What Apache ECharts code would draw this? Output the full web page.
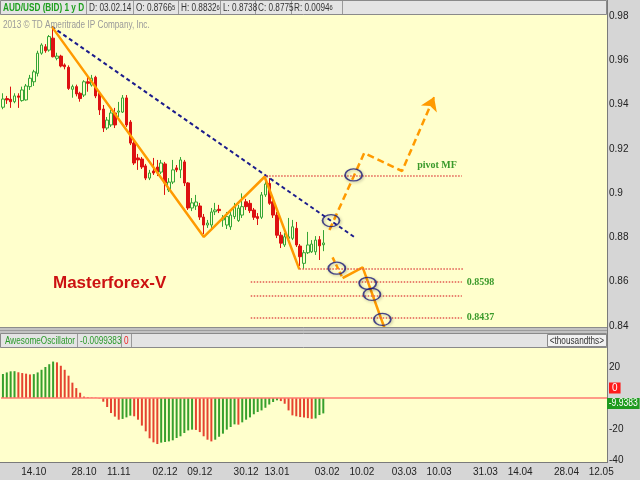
<!DOCTYPE html>
<html><head><meta charset="utf-8">
<script src="https://cdn.jsdelivr.net/npm/echarts@6/dist/echarts.min.js"></script>
<style>html,body{margin:0;padding:0;background:#d6d6d6}#c{width:640px;height:480px}</style>
</head><body><div id="c"></div><script>
// ---- data (daily AUD/USD candles: [open, close, low, high]) ----
const candles = [
[0.9388,0.9425,0.9379,0.9451],[0.9427,0.9421,0.9403,0.9439],[0.9424,0.9413,0.9385,0.9481],[0.9413,0.9439,0.9406,0.9451],
[0.9439,0.9433,0.9385,0.9451],[0.9418,0.9466,0.9413,0.9481],[0.9421,0.9484,0.9418,0.9493],[0.9481,0.9519,0.9466,0.9534],
[0.9503,0.9548,0.9484,0.9557],[0.9541,0.9632,0.9527,0.9643],[0.9632,0.9669,0.9625,0.9677],[0.9661,0.9643,0.9634,0.9673],
[0.9646,0.9707,0.9639,0.9714],[0.9700,0.9616,0.9613,0.9752],[0.9609,0.9619,0.9600,0.9634],[0.9619,0.9574,0.9568,0.9625],
[0.9579,0.9571,0.9559,0.9586],[0.9568,0.9473,0.9466,0.9577],[0.9469,0.9481,0.9431,0.9490],[0.9481,0.9448,0.9437,0.9490],
[0.9451,0.9427,0.9413,0.9458],[0.9443,0.9503,0.9434,0.9510],[0.9503,0.9496,0.9458,0.9526],[0.9488,0.9519,0.9481,0.9534],
[0.9523,0.9439,0.9429,0.9530],[0.9451,0.9376,0.9353,0.9458],[0.9380,0.9294,0.9276,0.9398],[0.9294,0.9330,0.9285,0.9344],
[0.9308,0.9362,0.9299,0.9376],[0.9362,0.9308,0.9294,0.9385],[0.9366,0.9371,0.9344,0.9412],[0.9366,0.9430,0.9362,0.9443],
[0.9430,0.9308,0.9299,0.9443],[0.9321,0.9226,0.9217,0.9330],[0.9226,0.9136,0.9127,0.9235],[0.9159,0.9150,0.9105,0.9177],
[0.9154,0.9118,0.9109,0.9163],[0.9123,0.9068,0.9059,0.9132],[0.9068,0.9091,0.9059,0.9105],[0.9100,0.9091,0.9082,0.9159],
[0.9118,0.9095,0.9077,0.9150],[0.9095,0.9136,0.9086,0.9150],[0.9132,0.9046,0.8992,0.9141],[0.9014,0.9050,0.9005,0.9068],
[0.9050,0.9105,0.9041,0.9150],[0.9114,0.9105,0.9095,0.9127],[0.9105,0.9150,0.9068,0.9163],[0.9141,0.9046,0.9032,0.9150],
[0.9046,0.8933,0.8924,0.9050],[0.8933,0.8956,0.8919,0.8978],[0.8942,0.8960,0.8924,0.8992],[0.8942,0.8892,0.8879,0.8956],
[0.8892,0.8856,0.8815,0.8906],[0.8856,0.8865,0.8843,0.8879],[0.8856,0.8915,0.8843,0.8933],[0.8916,0.8924,0.8901,0.8956],
[0.8927,0.8921,0.8910,0.8947],[0.8879,0.8888,0.8848,0.8901],[0.8856,0.8894,0.8838,0.8915],[0.8848,0.8901,0.8834,0.8924],
[0.8894,0.8939,0.8883,0.8956],[0.8876,0.8932,0.8870,0.8947],[0.8901,0.8939,0.8888,0.8999],[0.8961,0.8939,0.8924,0.8974],
[0.8954,0.8921,0.8910,0.8969],[0.8924,0.8891,0.8879,0.8933],[0.8894,0.8886,0.8856,0.8910],[0.8891,0.8992,0.8883,0.9005],
[0.8992,0.9041,0.8983,0.9073],[0.9044,0.8954,0.8947,0.9068],[0.8961,0.8901,0.8888,0.8974],[0.8901,0.8810,0.8797,0.8915],
[0.8810,0.8774,0.8752,0.8825],[0.8766,0.8803,0.8757,0.8820],[0.8796,0.8803,0.8788,0.8888],[0.8796,0.8848,0.8788,0.8879],
[0.8841,0.8766,0.8757,0.8870],[0.8761,0.8713,0.8671,0.8770],[0.8683,0.8731,0.8657,0.8743],[0.8731,0.8766,0.8725,0.8825],
[0.8735,0.8770,0.8730,0.8788],[0.8735,0.8788,0.8721,0.8806],[0.8790,0.8762,0.8698,0.8806],[0.8767,0.8775,0.8738,0.8833]
];
// Awesome Oscillator, thousandths
const aoValues = [15.5,16.5,17.2,17.3,16.6,16.1,15.7,15.2,15.4,16.5,18.2,20.0,21.8,23.5,23.0,20.8,18.2,14.4,9.9,6.4,
3.4,0.9,0.5,0.3,0.2,-0.3,-2.4,-5.8,-9.7,-12.0,-14.0,-13.5,-12.5,-11.4,-11.8,-14.0,-17.8,-21.5,-26.0,-28.6,
-29.7,-28.8,-28.4,-28.0,-27.3,-25.8,-24.7,-22.6,-20.9,-20.4,-20.6,-22.0,-24.7,-26.9,-28.0,-26.9,-25.0,-23.0,-20.4,-18.7,
-17.0,-17.2,-15.7,-14.0,-12.5,-10.5,-9.0,-8.0,-6.3,-4.2,-2.6,-1.5,-2.0,-3.7,-8.0,-11.2,-11.8,-12.3,-12.6,-13.0,
-13.4,-13.2,-11.0,-9.9383];
const tickLabels = ['14.10','28.10','11.11','02.12','09.12','30.12','13.01','03.02','10.02','03.03','10.03','31.03','14.04','28.04','12.05'];
const tickIndex  = [8,21,30,42,51,63,71,84,93,104,113,125,134,146,155];
const slotCount = 157;
// drawn analysis (bar index, price)
const trendLine = [[12.66,0.9752],[91.5,0.8796]];
const zigzag = [[12.66,0.9752],[52.05,0.8802],[67.8,0.9074],[76.8,0.8656]];
const upPath = [[84.6,0.8834],[93.6,0.9181],[103.4,0.9100],[111.7,0.9434]];
const downDash = [[85.4,0.8710],[88.0,0.8616]];
const downPath = [[88.0,0.8616],[93.2,0.8665],[99.2,0.8374]];
const levelPrices = [0.9079,0.8657,0.8598,0.8537,0.8437];
const levelFrom = [68.2,76.8,64.2,64.2,64.2];
const levelTo = [118.9,119.4,118.9,118.9,118.9];
const levelLabels = ['pivot MF','','0.8598','','0.8437'];
const circles = [[90.85,0.9082],[85.0,0.8876],[86.5,0.8661],[94.5,0.8593],[95.6,0.8543],[98.3,0.8430]];

const NF = "'Liberation Sans',Arial,sans-serif";
const SX = 0.82; // narrow look of the platform font
const chart = echarts.init(document.getElementById('c'));
const cats = Array.from({length: slotCount}, (_, i) => String(i));
const labelAt = {}; tickIndex.forEach((t, k) => labelAt[t] = tickLabels[k]);
const aoData = aoValues.map((v, i) => ({value: v, itemStyle: {color: (i === 0 || v > aoValues[i-1]) ? '#36a02c' : '#e5432f'}}));
const ORANGE = '#ff9a00';
const lvlLabel = t => t ? {show: true, formatter: t, position: t === 'pivot MF' ? 'insideEndTop' : 'end', distance: 5,
  color: '#3a9a2a', fontFamily: "'Liberation Serif',serif", fontWeight: 'bold', fontSize: 10} : {show: false};
// arrow head only: a very short piece at the tip of the path
const tip = path => { const a = path[path.length-2], b = path[path.length-1];
  return [[{coord: [b[0] - (b[0]-a[0])*0.06, b[1] - (b[1]-a[1])*0.06]}, {coord: b}]]; };

chart.setOption({
  animation: false,
  backgroundColor: '#d6d6d6',
  grid: [{left: 1, right: 33, top: 16, bottom: 154}, {left: 1, right: 33, top: 351.5, bottom: 20}],
  xAxis: [
    {type: 'category', gridIndex: 0, data: cats, axisLine: {show: false}, axisTick: {show: false}, axisLabel: {show: false}, splitLine: {show: false}},
    {type: 'category', gridIndex: 1, data: cats, axisLine: {show: false}, axisTick: {show: false}, splitLine: {show: false},
      axisLabel: {interval: (i) => labelAt[i] !== undefined, formatter: (v, i) => labelAt[i] || '', color: '#222', fontSize: 10, fontFamily: NF, margin: 7, hideOverlap: false}},
    {type: 'value', gridIndex: 0, min: -0.5, max: slotCount - 0.5, show: false}
  ],
  yAxis: [
    {type: 'value', gridIndex: 0, position: 'right', min: 0.84, max: 0.98, interval: 0.02, axisLine: {show: false}, axisTick: {show: false}, splitLine: {show: false},
      axisLabel: {color: '#222', fontSize: 10, fontFamily: NF, margin: 2, formatter: v => String(+v.toFixed(2))}},
    {type: 'value', gridIndex: 1, position: 'right', min: -40, max: 30, interval: 20, axisLine: {show: false}, axisTick: {show: false}, splitLine: {show: false},
      axisLabel: {color: '#222', fontSize: 10, fontFamily: NF, margin: 2, showMaxLabel: false, formatter: v => v === 0 ? '' : String(v)}}
  ],
  series: [
    {type: 'candlestick', xAxisIndex: 0, yAxisIndex: 0, data: candles, barWidth: 3,
      itemStyle: {color: '#ffffcc', color0: '#dd1111', borderColor: '#35a535', borderColor0: '#dd1111', borderWidth: 1}},
    {type: 'bar', xAxisIndex: 1, yAxisIndex: 1, data: aoData, barWidth: 2,
      markLine: {silent: true, symbol: ['none', 'none'], label: {show: false}, animation: false,
        data: [{yAxis: 0, lineStyle: {color: '#ff7a70', width: 1.5, type: 'solid'}}]}},
    {type: 'line', xAxisIndex: 2, yAxisIndex: 0, data: trendLine, symbol: 'none', silent: true,
      lineStyle: {color: '#1c1c8c', width: 2, type: [4, 3]}},
    {type: 'line', xAxisIndex: 2, yAxisIndex: 0, data: zigzag, symbol: 'none', silent: true,
      lineStyle: {color: ORANGE, width: 2.5},
      markLine: {silent: true, symbol: ['none', 'none'], animation: false,
        data: levelPrices.map((p, k) => [
          {coord: [levelFrom[k], p], label: lvlLabel(levelLabels[k]), lineStyle: {color: '#e25a50', width: 1.5, type: 'dotted'}},
          {coord: [levelTo[k], p]}])}},
    {type: 'line', xAxisIndex: 2, yAxisIndex: 0, data: upPath, symbol: 'none', silent: true, clip: false,
      lineStyle: {color: ORANGE, width: 2.5, type: [7, 4]},
      markLine: {silent: true, symbol: ['none', 'arrow'], symbolSize: 13, label: {show: false}, animation: false,
        lineStyle: {color: ORANGE, width: 2, type: 'solid'}, data: tip(upPath)}},
    {type: 'line', xAxisIndex: 2, yAxisIndex: 0, data: downDash, symbol: 'none', silent: true, clip: false,
      lineStyle: {color: ORANGE, width: 2.5, type: [5, 3]}},
    {type: 'line', xAxisIndex: 2, yAxisIndex: 0, data: downPath, symbol: 'none', silent: true, clip: false,
      lineStyle: {color: ORANGE, width: 2.5},
      markLine: {silent: true, symbol: ['none', 'arrow'], symbolSize: 12, label: {show: false}, animation: false,
        lineStyle: {color: ORANGE, width: 2, type: 'solid'}, data: tip(downPath)}},
    {type: 'scatter', xAxisIndex: 2, yAxisIndex: 0, data: circles, symbol: 'circle', symbolSize: [17, 12], silent: true, clip: false, z: 5,
      itemStyle: {color: 'rgba(0,0,0,0)', borderColor: '#1a1a7a', borderWidth: 1.5, shadowBlur: 3, shadowColor: 'rgba(0,0,0,0.35)', shadowOffsetX: 1, shadowOffsetY: 1}}
  ]
});

// static frame + text, plus value bubbles placed through the axis scale
const zeroY = chart.convertToPixel({yAxisIndex: 1}, 0);
const lastAO = aoValues[aoValues.length - 1];
const lastY = chart.convertToPixel({yAxisIndex: 1}, lastAO);
const vline = (x, y1, y2, c) => ({type: 'line', shape: {x1: x, y1: y1, x2: x, y2: y2}, style: {stroke: c || '#9a9a9a', lineWidth: 1}, z: 50});
const txt = (x, y, t, o, sx) => ({type: 'text', x: x, y: y, z: 60, scaleX: sx === undefined ? SX : sx,
  style: Object.assign({text: t, fill: '#333', font: '10px ' + NF, verticalAlign: 'middle'}, o || {})});
const rich = {a: {fontSize: 10, fontFamily: NF, color: '#333'}, b: {fontSize: 7, fontFamily: NF, color: '#333'}};
chart.setOption({graphic: [
  {type: 'rect', shape: {x: 0, y: 15, width: 607, height: 312}, style: {fill: '#ffffcc'}, z: 1},
  {type: 'rect', shape: {x: 0, y: 348, width: 607, height: 114}, style: {fill: '#ffffcc'}, z: 1},
  {type: 'rect', shape: {x: 0.5, y: 0.5, width: 606, height: 14}, style: {fill: '#e4e4e4', stroke: '#8a8a8a', lineWidth: 1}, z: 40},
  {type: 'rect', shape: {x: 0, y: 327, width: 607, height: 6}, style: {fill: '#c2c2c2'}, z: 40},
  {type: 'line', shape: {x1: 0, y1: 327.5, x2: 607, y2: 327.5}, style: {stroke: '#8c8c8c', lineWidth: 1}, z: 41},
  {type: 'line', shape: {x1: 0, y1: 330.5, x2: 607, y2: 330.5}, style: {stroke: '#9c9c9c', lineWidth: 1}, z: 41},
  {type: 'rect', shape: {x: 0.5, y: 333.5, width: 606, height: 14}, style: {fill: '#e4e4e4', stroke: '#8a8a8a', lineWidth: 1}, z: 40},
  {type: 'line', shape: {x1: 607.5, y1: 0, x2: 607.5, y2: 463}, style: {stroke: '#7a7a7a', lineWidth: 1}, z: 41},
  {type: 'line', shape: {x1: 0, y1: 462.5, x2: 608, y2: 462.5}, style: {stroke: '#7a7a7a', lineWidth: 1}, z: 41},
  vline(86.5, 1, 14), vline(133.5, 1, 14), vline(178.5, 1, 14), vline(220.5, 1, 14), vline(255.5, 1, 14), vline(291.5, 1, 14), vline(342.5, 1, 14),
  txt(3, 8, 'AUD/USD (BID) 1 y D', {fill: '#1ea01e', font: 'bold 10px ' + NF}),
  txt(89, 8, 'D: 03.02.14'),
  txt(136, 8, '{a|O: 0.8766}{b|5}', {rich: rich}),
  txt(181, 8, '{a|H: 0.8832}{b|6}', {rich: rich}),
  txt(223, 8, 'L: 0.8738'),
  txt(258, 8, 'C: 0.8775'),
  txt(294, 8, '{a|R: 0.0094}{b|6}', {rich: rich}),
  txt(3, 25, '2013 \u00a9 TD Ameritrade IP Company, Inc.', {fill: '#9a9a9a', font: '10px ' + NF}),
  txt(53, 283, 'Masterforex-V', {fill: '#cc1111', font: 'bold 17px ' + NF}, 1),
  vline(77.5, 334, 347), vline(121.5, 334, 347), vline(131.5, 334, 347),
  txt(5, 341, 'AwesomeOscillator', {fill: '#2a9a2a'}),
  txt(80, 341, (lastAO / 1000).toFixed(7), {fill: '#2a9a2a'}),
  txt(124, 341, '0', {fill: '#ee2222'}),
  {type: 'rect', shape: {x: 547.5, y: 334.5, width: 59, height: 12}, style: {fill: '#f2f2f2', stroke: '#8a8a8a', lineWidth: 1}, z: 55},
  txt(604, 341, '<thousandths>', {align: 'right'}),
  txt(609, zeroY - 10, '0', {fill: '#ffffff', backgroundColor: '#ff1a1a', padding: [1, 3, 0, 3]}, 1),
  txt(607, lastY - 10, lastAO.toFixed(4), {fill: '#ffffff', backgroundColor: '#1f9b1f', padding: [1, 2, 0, 2]}, 0.86)
]});
</script></body></html>
